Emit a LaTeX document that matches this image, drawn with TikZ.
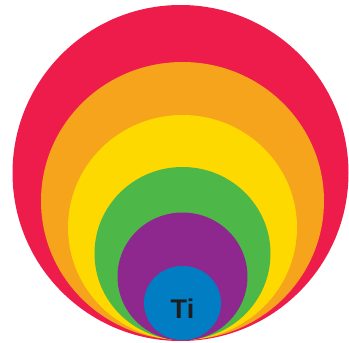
\documentclass[tikz,border=0pt]{standalone}
\usepackage{fontspec}
\setmainfont{Liberation Sans}
\definecolor{cred}{HTML}{EE1C4A}
\definecolor{corange}{HTML}{F7A41D}
\definecolor{cyellow}{HTML}{FDD900}
\definecolor{cgreen}{HTML}{4DB848}
\definecolor{cpurple}{HTML}{8E288E}
\definecolor{cblue}{HTML}{007DC3}
\definecolor{ctext}{HTML}{1E1E22}
\begin{document}
\begin{tikzpicture}[x=1pt,y=-1pt]
\useasboundingbox (0,0) rectangle (349,343);
\begin{scope}
\clip (0,0) rectangle (349,343);
\fill[cred] (180.5,173) ellipse [x radius=168, y radius=168];
\fill[corange] (182.5,201) ellipse [x radius=141.5, y radius=139];
\fill[cyellow] (182.5,227.5) ellipse [x radius=114.5, y radius=112.5];
\fill[cgreen] (182.5,253.5) ellipse [x radius=88, y radius=86.5];
\fill[cpurple] (182.5,276.5) ellipse [x radius=65, y radius=64];
\fill[cblue] (182.5,303) ellipse [x radius=38.5, y radius=37];
\end{scope}
\node[text=ctext, font=\bfseries\fontsize{27}{30}\selectfont, inner sep=0pt] (ti) at (182.5,309) {Ti};
\end{tikzpicture}
\end{document}
